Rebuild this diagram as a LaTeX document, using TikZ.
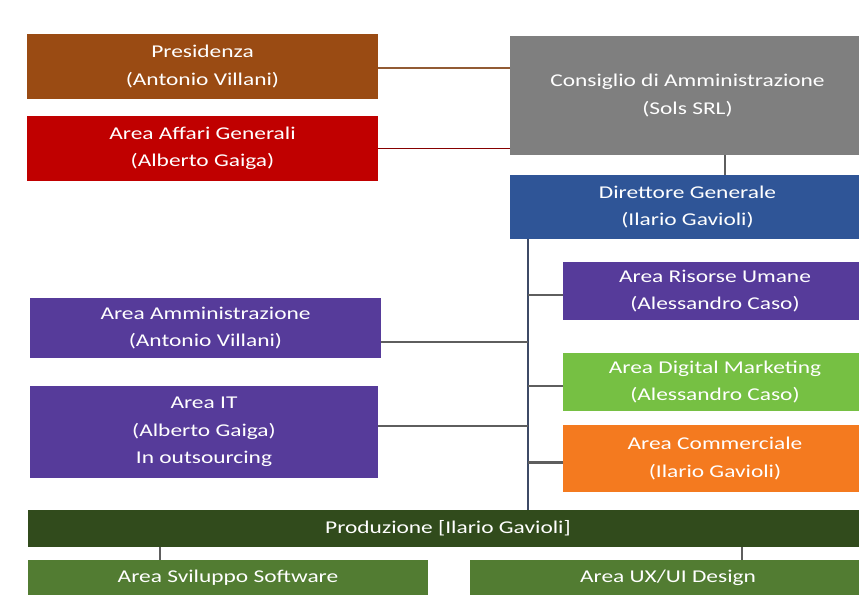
\documentclass[tikz,border=0pt]{standalone}
\usepackage{fontspec}
\setmainfont{Carlito}[FakeStretch=1.3]
\usetikzlibrary{positioning}
\definecolor{pres}{HTML}{9A4B13}
\definecolor{affari}{HTML}{C00000}
\definecolor{cda}{HTML}{7F7F7F}
\definecolor{dirg}{HTML}{2F5597}
\definecolor{viola}{HTML}{563B9A}
\definecolor{lime}{HTML}{76C043}
\definecolor{arancio}{HTML}{F47A1F}
\definecolor{verdescuro}{HTML}{314B1C}
\definecolor{verde}{HTML}{527C32}
\definecolor{linea}{HTML}{5E5E5E}
\definecolor{dorso}{HTML}{3D4A66}
\tikzset{box/.style n args={3}{rectangle,fill=#1,text=white,align=center,inner sep=0pt,
    minimum width=#2*0.75pt,minimum height=#3*0.75pt,font=\fontsize{13.5}{20.5}\selectfont},
  conn/.style={draw=linea,line width=1.6pt}}
\begin{document}
\begin{tikzpicture}[x=0.75pt,y=-0.75pt]
    \useasboundingbox (0,0) rectangle (859,594);
    \clip (0,0) rectangle (859,594);
    \node[box={pres}{351}{65}] (p) at (202.5,66.5) {Presidenza\\(Antonio Villani)};
    \node[box={affari}{351}{65}] (ag) at (202.5,148.5) {Area Affari Generali\\(Alberto Gaiga)};
    \node[box={cda}{355}{119}] (cda) at (687.5,95.5) {Consiglio di Amministrazione\\(Sols SRL)};
    \node[box={dirg}{355}{64}] (dg) at (687.5,207) {Direttore Generale\\(Ilario Gavioli)};
    \node[box={viola}{304}{58}] (ru) at (715,291) {Area Risorse Umane\\(Alessandro Caso)};
    \node[box={viola}{351}{60}] (amm) at (205.5,328) {Area Amministrazione\\(Antonio Villani)};
    \node[box={lime}{304}{58}] (dm) at (715,382) {Area Digital Marketing\\(Alessandro Caso)};
    \node[box={viola}{348}{92}] (it) at (204,432) {Area IT\\(Alberto Gaiga)\\In outsourcing};
    \node[box={arancio}{304}{67}] (com) at (715,458.5) {Area Commerciale\\(Ilario Gavioli)};
    \node[box={verdescuro}{840}{37}] (prod) at (448,528.5) {Produzione [Ilario Gavioli]};
    \node[box={verde}{400}{36}] (sw) at (228,578) {Area Sviluppo Software};
    \node[box={verde}{396}{36}] (ux) at (668,578) {Area UX/UI Design};
    \coordinate (sp) at (528,0);
    \coordinate (k1) at (725,0);
    \coordinate (k2) at (160,0);
    \coordinate (k3) at (742,0);
    \draw[conn,draw=pres!70!gray] ([yshift=-1pt]p.east) -- ([yshift=-1pt]p.east -| cda.west);
    \draw[conn,draw=affari!70!black,line width=1.2pt] (ag.east) -- (ag.east -| cda.west);
    \draw[conn] (cda.south -| k1) -- (dg.north -| k1);
    \draw[conn,draw=dorso] (dg.south -| sp) -- (prod.north -| sp);
    \draw[conn] ([yshift=-3pt]ru.west) -- ([yshift=-3pt]ru.west -| sp);
    \draw[conn] ([yshift=-10.5pt]amm.east) -- ([yshift=-10.5pt]amm.east -| sp);
    \draw[conn] ([yshift=-3pt]dm.west) -- ([yshift=-3pt]dm.west -| sp);
    \draw[conn] ([yshift=4.5pt]it.east) -- ([yshift=4.5pt]it.east -| sp);
    \draw[conn] ([yshift=-3pt]com.west) -- ([yshift=-3pt]com.west -| sp);
    \draw[conn] (prod.south -| k2) -- (sw.north -| k2);
    \draw[conn] (prod.south -| k3) -- (ux.north -| k3);
\end{tikzpicture}
\end{document}
